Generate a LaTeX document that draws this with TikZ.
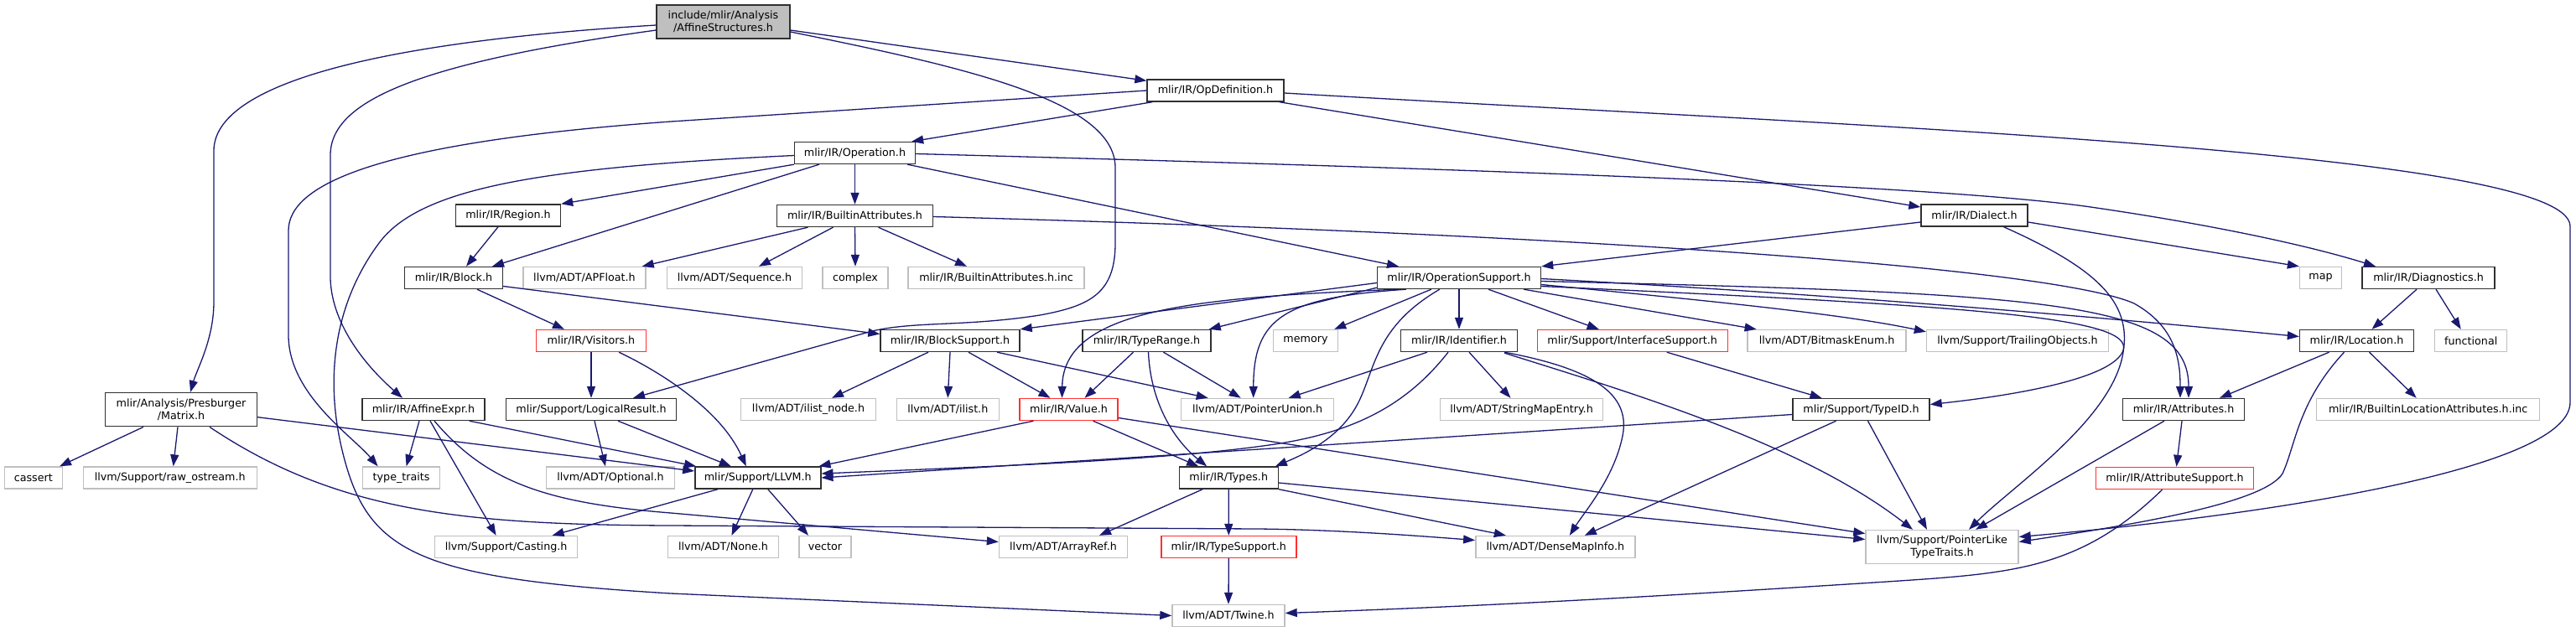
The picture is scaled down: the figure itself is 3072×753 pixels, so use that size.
\documentclass[tikz,border=0pt]{standalone}
\usepackage{fontspec}
\setmainfont{DejaVu Sans}
\usetikzlibrary{arrows.meta,calc}
\definecolor{edgec}{HTML}{191970}
\definecolor{grayb}{HTML}{BFBFBF}
\definecolor{redb}{HTML}{FF3030}
\definecolor{docb}{HTML}{303030}
\begin{document}
\begin{tikzpicture}[x=1pt,y=-1pt,
  base/.style={rectangle, inner sep=0pt, line width=1.4pt, minimum height=26pt,
    font=\fontsize{12.7}{15}\selectfont, align=center, text=black},
  doc/.style={base, draw=docb, fill=white},
  ext/.style={base, draw=grayb, fill=white},
  trunc/.style={base, draw=redb, fill=white},
  rootn/.style={base, draw=docb, fill=grayb},
  dep/.style={draw=edgec, line width=1.3pt, -{Triangle[length=14pt,width=10pt]}}
]
\useasboundingbox (0,0) rectangle (3072,753);
% row 0
\node[rootn, minimum width=159pt, minimum height=40pt] (root) at (862.5,26) {include/mlir/Analysis\\/AffineStructures.h};
% row 1
\node[doc, minimum width=163pt] (opdef) at (1449.5,108) {mlir/IR/OpDefinition.h};
% row 2
\node[doc, minimum width=144pt] (oper) at (1019.5,182.5) {mlir/IR/Operation.h};
% row 3
\node[doc, minimum width=125pt] (region) at (606,257) {mlir/IR/Region.h};
\node[doc, minimum width=186pt] (batt) at (1019.5,257.5) {mlir/IR/BuiltinAttributes.h};
\node[doc, minimum width=127pt] (dialect) at (2354.5,257) {mlir/IR/Dialect.h};
% row 4
\node[doc, minimum width=117pt] (block) at (541,331.5) {mlir/IR/Block.h};
\node[ext, minimum width=146pt] (apfloat) at (697,331.5) {llvm/ADT/APFloat.h};
\node[ext, minimum width=161pt] (seq) at (876,331.5) {llvm/ADT/Sequence.h};
\node[ext, minimum width=78pt] (complex) at (1020,331.5) {complex};
\node[ext, minimum width=210pt] (battinc) at (1188,331.5) {mlir/IR/BuiltinAttributes.h.inc};
\node[doc, minimum width=195pt] (opsup) at (1740,331.5) {mlir/IR/OperationSupport.h};
\node[ext, minimum width=50pt] (map) at (2767.5,331.5) {map};
\node[doc, minimum width=158pt] (diag) at (2896,331.5) {mlir/IR/Diagnostics.h};
% row 5
\node[trunc, minimum width=131pt] (visitors) at (705,406.5) {mlir/IR/Visitors.h};
\node[doc, minimum width=166pt] (blocksup) at (1133,406.5) {mlir/IR/BlockSupport.h};
\node[doc, minimum width=153pt] (typerange) at (1367.5,406.5) {mlir/IR/TypeRange.h};
\node[ext, minimum width=77pt] (memory) at (1557,406.5) {memory};
\node[doc, minimum width=139pt] (ident) at (1740,406.5) {mlir/IR/Identifier.h};
\node[trunc, minimum width=227pt] (ifsup) at (1946.7,406.5) {mlir/Support/InterfaceSupport.h};
\node[ext, minimum width=189pt] (bitmask) at (2178.6,406.5) {llvm/ADT/BitmaskEnum.h};
\node[ext, minimum width=217pt] (trailing) at (2406,406.5) {llvm/Support/TrailingObjects.h};
\node[doc, minimum width=136pt] (location) at (2810.5,406.5) {mlir/IR/Location.h};
\node[ext, minimum width=86pt] (functional) at (2946.7,406.5) {functional};
% row 6
\node[doc, minimum width=181pt, minimum height=40pt] (matrix) at (216,488.7) {mlir/Analysis/Presburger\\/Matrix.h};
\node[doc, minimum width=146pt] (affexpr) at (505,488.5) {mlir/IR/AffineExpr.h};
\node[doc, minimum width=203pt] (logres) at (705,488.5) {mlir/Support/LogicalResult.h};
\node[ext, minimum width=161pt] (ilistnode) at (964,488.5) {llvm/ADT/ilist\_node.h};
\node[ext, minimum width=122pt] (ilist) at (1130.3,488.5) {llvm/ADT/ilist.h};
\node[trunc, minimum width=117pt] (value) at (1274.5,488.5) {mlir/IR/Value.h};
\node[ext, minimum width=182pt] (ptrunion) at (1499.7,488.5) {llvm/ADT/PointerUnion.h};
\node[ext, minimum width=194pt] (strmap) at (1814.5,488.5) {llvm/ADT/StringMapEntry.h};
\node[doc, minimum width=163pt] (typeid) at (2219.5,488.5) {mlir/Support/TypeID.h};
\node[doc, minimum width=145pt] (attrs) at (2604,488.5) {mlir/IR/Attributes.h};
\node[ext, minimum width=266pt] (bliinc) at (2895.7,488.5) {mlir/IR/BuiltinLocationAttributes.h.inc};
% row 7
\node[ext, minimum width=69pt] (cassert) at (39.8,570) {cassert};
\node[ext, minimum width=207pt] (rawos) at (202.7,570) {llvm/Support/raw\_ostream.h};
\node[ext, minimum width=92pt] (typetraits) at (478.6,570) {type\_traits};
\node[ext, minimum width=153pt] (optional) at (728,570) {llvm/ADT/Optional.h};
\node[doc, minimum width=150pt] (llvm) at (903.8,570) {mlir/Support/LLVM.h};
\node[doc, minimum width=118pt] (types) at (1465.2,570) {mlir/IR/Types.h};
\node[trunc, minimum width=188pt] (attrsup) at (2593.5,570.5) {mlir/IR/AttributeSupport.h};
% row 8
\node[ext, minimum width=170pt] (casting) at (603.6,652.5) {llvm/Support/Casting.h};
\node[ext, minimum width=132pt] (none) at (862.5,652.5) {llvm/ADT/None.h};
\node[ext, minimum width=62pt] (vector) at (984,652.5) {vector};
\node[ext, minimum width=153pt] (arrayref) at (1268,652.5) {llvm/ADT/ArrayRef.h};
\node[trunc, minimum width=161pt] (typesup) at (1465.3,652.5) {mlir/IR/TypeSupport.h};
\node[ext, minimum width=190pt] (densemap) at (1854.8,652.5) {llvm/ADT/DenseMapInfo.h};
\node[ext, minimum width=182pt, minimum height=40pt] (ptrlike) at (2316,652.5) {llvm/Support/PointerLike\\TypeTraits.h};
% row 9
\node[ext, minimum width=134pt] (twine) at (1465,734.5) {llvm/ADT/Twine.h};

% ---- edges ----
% root
\draw[dep] ($(root.east)+(0,10)$) -- ($(opdef.north west)+(0,2)$);
\draw[dep] ($(root.west)+(0,4)$) .. controls (450,50) and (255,100) .. (255,180) -- (255,360) .. controls (255,405) and (235,440) .. ($(matrix.north)+(11,0)$);
\draw[dep] ($(root.west)+(0,10)$) .. controls (500,75) and (394,120) .. (394,185) -- (394,333) .. controls (396,390) and (440,440) .. ($(affexpr.north)+(-25,0)$);
\draw[dep] ($(root.east)+(0,12)$) .. controls (1150,80) and (1330,120) .. (1330,200) -- (1330,290) .. controls (1330,350) and (1300,365) .. (1240,376) .. controls (1150,390) and (1092,383) .. (1040,395) -- ($(logres.north)+(50,0)$);
% opdef
\draw[dep] ($(opdef.south west)+(7,0)$) -- ($(oper.north east)+(-5,0)$);
\draw[dep] (opdef.west) -- (800,145) .. controls (450,170) and (344,220) .. (344,275) -- (344,400) .. controls (344,470) and (420,520) .. ($(typetraits.north)+(-28,0)$);
\draw[dep] ($(opdef.south east)+(-6,0)$) -- ($(dialect.west)+(0,-10)$);
\draw[dep] ($(opdef.east)+(0,3)$) .. controls (2200,150) and (3065,180) .. (3065,270) -- (3065,480) .. controls (3065,560) and (2700,615) .. ($(ptrlike.east)+(0,-12)$);
% oper
\draw[dep] (oper.south west) -- (region.north east);
\draw[dep] ($(oper.south west)+(30,0)$) -- ($(block.north)+(46,0)$);
\draw[dep] (oper.south) -- (batt.north);
\draw[dep] ($(oper.south east)+(-10,0)$) -- ($(opsup.north)+(-72,0)$);
\draw[dep] ($(oper.east)+(0,1)$) .. controls (1900,205) and (2350,225) .. (2500,248) .. controls (2650,270) and (2760,295) .. ($(diag.north)+(-63,0)$);
\draw[dep] ($(oper.west)+(0,3)$) .. controls (640,200) and (500,225) .. (452,290) .. controls (400,360) and (385,450) .. (410,545) .. controls (440,660) and (500,690) .. (800,708) -- (twine.west);
% batt
\draw[dep] ($(batt.south)+(-56,0)$) -- ($(apfloat.north east)+(-5,0)$);
\draw[dep] ($(batt.south)+(-26,0)$) -- ($(seq.north)+(29,0)$);
\draw[dep] (batt.south) -- (complex.north);
\draw[dep] ($(batt.south)+(28,0)$) -- ($(battinc.north)+(-35,0)$);
\draw[dep] ($(batt.east)+(0,1)$) .. controls (1900,280) and (2450,320) .. (2545,362) .. controls (2595,390) and (2600,430) .. ($(attrs.north)+(-4,0)$);
% region, block
\draw[dep] ($(region.south)+(-12,0)$) -- ($(block.north)+(15,0)$);
\draw[dep] ($(block.south)+(28,0)$) -- ($(visitors.north)+(-32,0)$);
\draw[dep] ($(block.east)+(0,10)$) -- ($(blocksup.west)+(0,-8)$);
% opsup
\draw[dep] ($(opsup.west)+(0,6)$) -- (blocksup.north east);
\draw[dep] ($(opsup.south west)+(0,-2)$) -- ($(typerange.north east)+(-3,0)$);
\draw[dep] ($(opsup.south west)+(25,0)$) .. controls (1420,355) and (1268,370) .. ($(value.north)+(-8,0)$);
\draw[dep] ($(opsup.south west)+(35,0)$) .. controls (1530,355) and (1495,380) .. ($(ptrunion.north)+(-5,0)$);
\draw[dep] ($(opsup.south west)+(65,0)$) -- ($(memory.north east)+(-5,0)$);
\draw[dep] (opsup.south) -- (ident.north);
\draw[dep] ($(opsup.south)+(35,0)$) -- ($(ifsup.north)+(-40,0)$);
\draw[dep] ($(opsup.south east)+(-21,0)$) -- ($(bitmask.north)+(-84,0)$);
\draw[dep] ($(opsup.east)+(0,8)$) .. controls (2050,360) and (2200,375) .. ($(trailing.north west)+(0,3)$);
\draw[dep] ($(opsup.east)+(0,1)$) .. controls (2200,352) and (2500,378) .. ($(location.west)+(0,-5)$);
\draw[dep] ($(opsup.east)+(0,4)$) .. controls (2450,350) and (2610,360) .. ($(attrs.north)+(6,0)$);
\draw[dep] ($(opsup.east)+(0,10)$) .. controls (2350,365) and (2545,378) .. (2532,418) .. controls (2520,452) and (2400,472) .. ($(typeid.east)+(0,-6)$);
\draw[dep] ($(opsup.south west)+(75,0)$) .. controls (1640,390) and (1640,440) .. (1620,480) .. controls (1600,520) and (1560,540) .. ($(types.north east)+(-4,0)$);
% dialect
\draw[dep] ($(dialect.west)+(0,8)$) -- (opsup.north east);
\draw[dep] ($(dialect.east)+(0,8)$) -- (map.north west);
\draw[dep] ($(dialect.south)+(35,0)$) .. controls (2500,320) and (2542,360) .. (2532,420) .. controls (2520,500) and (2400,580) .. ($(ptrlike.north)+(32,0)$);
% diag
\draw[dep] ($(diag.south)+(-14,0)$) -- ($(location.north)+(18,0)$);
\draw[dep] ($(diag.south)+(9,0)$) -- ($(functional.north)+(-12,0)$);
% visitors, logres
\draw[dep] (visitors.south) -- (logres.north);
\draw[dep] ($(visitors.south east)+(-33,0)$) .. controls (790,445) and (860,490) .. ($(llvm.north)+(-14,0)$);
\draw[dep] ($(logres.south)+(4,0)$) -- ($(optional.north)+(-6,0)$);
\draw[dep] ($(logres.south)+(32,0)$) -- ($(llvm.north)+(-32,0)$);
% affexpr
\draw[dep] ($(affexpr.south)+(-5,0)$) -- ($(typetraits.north)+(6,0)$);
\draw[dep] ($(affexpr.south)+(8,0)$) -- ($(casting.north)+(-12,0)$);
\draw[dep] ($(affexpr.south)+(13,0)$) .. controls (580,575) and (650,600) .. (800,612) -- ($(arrayref.west)+(0,-6)$);
\draw[dep] ($(affexpr.south east)+(-19,0)$) -- ($(llvm.north west)+(2,0)$);
% matrix
\draw[dep] ($(matrix.south)+(-45,0)$) -- ($(cassert.north east)+(-4,0)$);
\draw[dep] ($(matrix.south)+(-4,0)$) -- ($(rawos.north)+(4,0)$);
\draw[dep] ($(matrix.east)+(0,9)$) -- ($(llvm.west)+(0,-8)$);
\draw[dep] ($(matrix.south)+(34,0)$) .. controls (400,610) and (550,626) .. (800,627) -- (1500,631) .. controls (1600,632) and (1700,640) .. ($(densemap.west)+(0,-8)$);
% llvm
\draw[dep] ($(llvm.south west)+(28,0)$) -- ($(casting.north)+(55,0)$);
\draw[dep] ($(llvm.south)+(-6,0)$) -- ($(none.north)+(10,0)$);
\draw[dep] ($(llvm.south)+(12,0)$) -- ($(vector.north)+(-20,0)$);
% blocksup
\draw[dep] ($(blocksup.south)+(-26,0)$) -- ($(ilistnode.north)+(28,0)$);
\draw[dep] (blocksup.south) -- (ilist.north);
\draw[dep] ($(blocksup.south)+(22,0)$) -- ($(value.north)+(-22,0)$);
\draw[dep] ($(blocksup.south)+(56,0)$) -- ($(ptrunion.north)+(-59,0)$);
% typerange
\draw[dep] ($(typerange.south)+(-16,0)$) -- ($(value.north)+(19,0)$);
\draw[dep] ($(typerange.south)+(2,0)$) .. controls (1372,480) and (1400,525) .. ($(types.north)+(-26,0)$);
\draw[dep] ($(typerange.south)+(20,0)$) -- ($(ptrunion.north)+(-20,0)$);
% value
\draw[dep] ($(value.south)+(-42,0)$) -- ($(llvm.north east)+(-3,0)$);
\draw[dep] ($(value.south)+(29,0)$) -- ($(types.north)+(-36,0)$);
\draw[dep] ($(value.east)+(0,10)$) -- ($(ptrlike.west)+(0,-16)$);
% types
\draw[dep] ($(types.south)+(-31,0)$) -- ($(arrayref.north)+(43,0)$);
\draw[dep] (types.south) -- (typesup.north);
\draw[dep] (types.south east) -- ($(densemap.north)+(-59,0)$);
\draw[dep] ($(types.east)+(0,6)$) -- ($(ptrlike.west)+(0,-9)$);
\draw[dep] (typesup.south) -- (twine.north);
% ident
\draw[dep] ($(ident.south)+(-38,0)$) -- ($(ptrunion.north)+(37,0)$);
\draw[dep] ($(ident.south)+(-13,0)$) .. controls (1680,480) and (1620,515) .. (1520,530) .. controls (1400,548) and (1200,556) .. ($(llvm.east)+(0,-5)$);
\draw[dep] ($(ident.south)+(12,0)$) -- ($(strmap.north)+(-13,0)$);
\draw[dep] ($(ident.south east)+(-16,0)$) .. controls (1900,440) and (1945,470) .. (1935,520) .. controls (1925,570) and (1890,610) .. ($(densemap.north)+(17,0)$);
\draw[dep] ($(ident.south east)+(-16,1)$) .. controls (1950,470) and (2150,530) .. ($(ptrlike.north)+(-35,0)$);
% ifsup, typeid
\draw[dep] ($(ifsup.south)+(41,0)$) -- ($(typeid.north)+(-47,0)$);
\draw[dep] ($(typeid.west)+(0,6)$) -- (llvm.east);
\draw[dep] ($(typeid.south)+(-30,0)$) -- ($(densemap.north)+(35,0)$);
\draw[dep] ($(typeid.south)+(8,0)$) -- ($(ptrlike.north)+(-18,0)$);
% attrs, location, attrsup
\draw[dep] ($(attrs.south)+(-2,0)$) -- ($(attrsup.north)+(2,0)$);
\draw[dep] ($(attrs.south)+(-23,0)$) -- ($(ptrlike.north)+(40,0)$);
\draw[dep] ($(location.south)+(-33,0)$) -- ($(attrs.north)+(43,0)$);
\draw[dep] ($(location.south)+(15,0)$) -- ($(bliinc.north)+(-14,0)$);
\draw[dep] ($(location.south)+(-15,0)$) .. controls (2740,480) and (2738,530) .. (2722,565) .. controls (2700,600) and (2550,625) .. ($(ptrlike.east)+(0,-6)$);
\draw[dep] ($(attrsup.south)+(-15,0)$) .. controls (2480,680) and (2400,684) .. (2250,694) .. controls (2000,710) and (1800,722) .. ($(twine.east)+(0,-3)$);
\end{tikzpicture}
\end{document}
